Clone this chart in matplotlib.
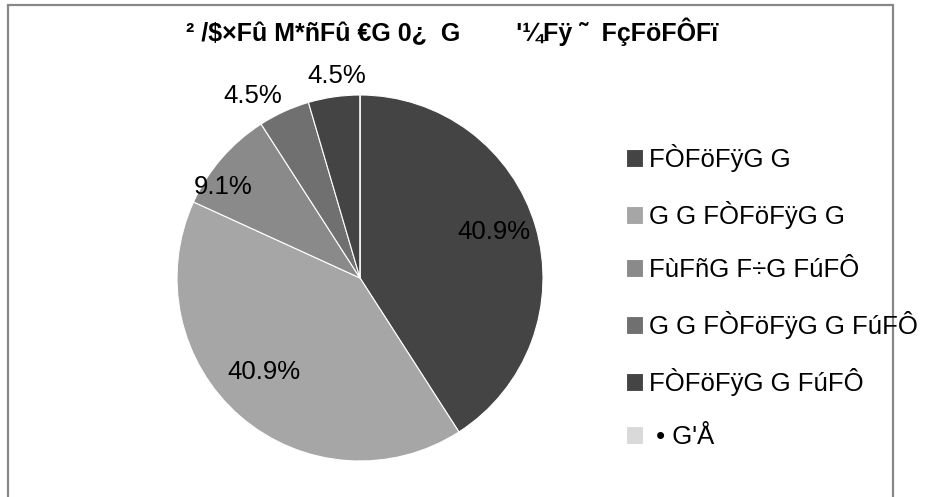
import matplotlib.pyplot as plt
from matplotlib.patches import Rectangle
import numpy as np

plt.rcParams['font.family'] = ['Liberation Sans', 'DejaVu Sans']

# data
title = "² /$×Fû M*ñFû €G 0¿  G        '¼Fÿ ˜  FçFöFÔFï"
labels = ["FÒFöFÿG G", "G G FÒFöFÿG G", "FùFñG F÷G FúFÔ",
          "G G FÒFöFÿG G FúFÔ", "FÒFöFÿG G FúFÔ", " • G'Å"]
counts = [9, 9, 2, 1, 1, 0]
colors = ['#444444', '#a6a6a6', '#8a8a8a', '#707070', '#444444', '#d9d9d9']
# percent label placement: distance from centre (fraction of radius), angle shift (deg)
label_dist = [0.775, 0.734, 0.90, 1.153, 1.111, 0.5]
label_shift = [2.5, -4.7, 7.3, 5.9, -1.7, 0]

W, H = 928, 497
fs = 18.5
fig = plt.figure(figsize=(W / 100, H / 100), dpi=100)

# chart frame
fig.patches.append(Rectangle((8 / W, -0.05), (893 - 8) / W, (497 - 5) / H + 0.05,
                             transform=fig.transFigure, fill=False,
                             edgecolor='#888888', linewidth=1.6))

fig.text(452 / W, 1 - 32 / H, title, ha='center', va='center',
         fontsize=18, fontweight='bold')

cx, cy, r = 360, 278, 183
ax = fig.add_axes([(cx - r) / W, (H - cy - r) / H, 2 * r / W, 2 * r / H])

def fmt(p):
    return '' if p < 0.05 else f'{p:.1f}%'

wedges, texts, autotexts = ax.pie(counts, colors=colors, startangle=90,
                                  counterclock=False, autopct=fmt,
                                  pctdistance=0.75,
                                  wedgeprops=dict(edgecolor='white', linewidth=0.8),
                                  textprops=dict(fontsize=fs))
for w, t, d, s in zip(wedges, autotexts, label_dist, label_shift):
    ang = np.deg2rad((w.theta1 + w.theta2) / 2 + s)
    t.set_position((d * np.cos(ang), d * np.sin(ang)))
    t.set_ha('center')
    t.set_va('center')
ax.set_xlim(-1, 1)
ax.set_ylim(-1, 1)

fig.legend(wedges, labels, loc='upper left', bbox_to_anchor=(626 / W, 1 - 144 / H),
           frameon=False, fontsize=fs, handlelength=0.66, handleheight=0.66,
           handletextpad=0.22, labelspacing=1.13, borderaxespad=0, borderpad=0)

fig.savefig('out.png', dpi=100)
